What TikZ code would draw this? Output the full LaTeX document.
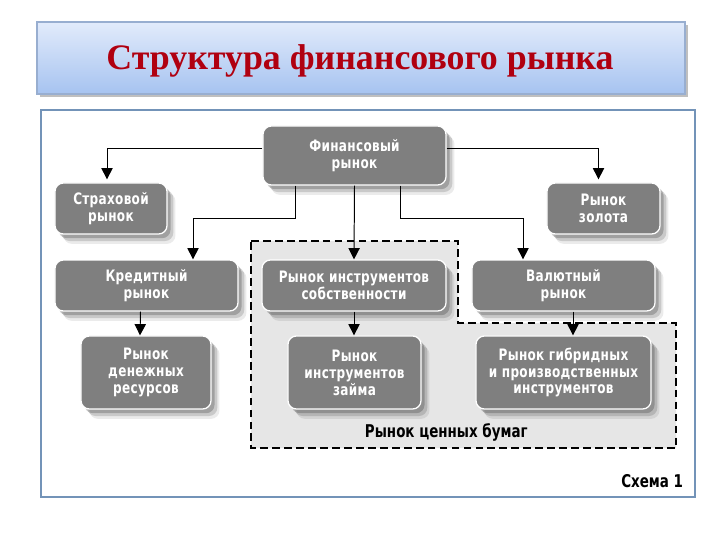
\documentclass[tikz,border=0pt]{standalone}
\usepackage{fontspec}
\setmainfont{Liberation Serif}
\newfontfamily\boxfont{DejaVu Sans Condensed}[FakeStretch=0.85, LetterSpace=2]
\newfontfamily\lblfont{DejaVu Sans Condensed}[FakeStretch=0.85]
\usetikzlibrary{shadows,calc,arrows.meta}
\definecolor{boxgray}{HTML}{7F7F7F}
\definecolor{framecol}{HTML}{7393B8}
\definecolor{titletop}{HTML}{E2EBFB}
\definecolor{titlebot}{HTML}{A6C3F0}
\definecolor{titleborder}{HTML}{98AED0}
\definecolor{titlered}{HTML}{B00010}
\definecolor{regiongray}{HTML}{E6E6E6}
\tikzset{
  mbox/.style={draw=white, line width=0.9pt, fill=boxgray, rounded corners=6pt,
    align=center, text=white, font=\boxfont\bfseries\fontsize{11.2}{12}\selectfont,
    drop shadow={shadow xshift=6pt, shadow yshift=-7pt, opacity=0.08, fill=black},
    drop shadow={shadow xshift=4.5pt, shadow yshift=-5pt, opacity=0.14, fill=black},
    drop shadow={shadow xshift=2.5pt, shadow yshift=-3pt, opacity=0.2, fill=black},
    inner sep=2pt},
  arr/.style={draw=black, line width=0.7pt, -{Triangle[width=8pt,length=8pt]}},
  lbl/.style={font=\lblfont\bfseries\fontsize{12.5}{14}\selectfont, text=black}
}
\begin{document}
\begin{tikzpicture}[x=0.025cm,y=-0.025cm]
\useasboundingbox (0,0) rectangle (720,540);
% title
\node[draw=titleborder, line width=0.8pt, top color=titletop, bottom color=titlebot,
  minimum width=648*0.025cm, minimum height=72*0.025cm,
  drop shadow={shadow xshift=2pt, shadow yshift=-2pt, opacity=0.25, fill=black}] (title) at (361,58) {};
\node[font=\bfseries\fontsize{25.5}{28}\selectfont, text=titlered] (ttext) at (360,61) {Структура финансового рынка};
% frame
\node[draw=framecol, line width=1.4pt, fill=white, minimum width=654*0.025cm, minimum height=387*0.025cm] (frame) at (368,303.5) {};
% dashed region
\draw[line width=1.8pt, dash pattern=on 5.5pt off 3pt, fill=regiongray]
  (251,241) -- (458,241) -- (458,323) -- (676,323) -- (676,448) -- (251,448) -- cycle;
% boxes
\node[mbox, minimum width=4.575cm, minimum height=1.475cm] (fin) at (354.5,155.5) {Финансовый\\рынок};
\node[mbox, minimum width=2.8cm, minimum height=1.275cm] (str) at (111,208.5) {Страховой\\рынок};
\node[mbox, minimum width=2.825cm, minimum height=1.275cm] (gold) at (603.5,208.5) {Рынок\\золота};
\node[mbox, minimum width=4.575cm, minimum height=1.275cm] (kred) at (146.5,285.5) {Кредитный\\рынок};
\node[mbox, minimum width=4.6cm, minimum height=1.275cm] (sobs) at (354,285.5) {Рынок инструментов\\собственности};
\node[mbox, minimum width=4.575cm, minimum height=1.275cm] (val) at (563.5,285.5) {Валютный\\рынок};
\node[mbox, minimum width=3.25cm, minimum height=1.825cm] (den) at (146,372.5) {Рынок\\денежных\\ресурсов};
\node[mbox, minimum width=3.325cm, minimum height=1.825cm] (zaim) at (354.5,372.5) {Рынок\\инструментов\\займа};
\node[mbox, minimum width=4.375cm, minimum height=1.825cm] (gib) at (563.5,372.5) {Рынок гибридных\\и производственных\\инструментов};
% labels
\node[lbl, anchor=west] (cb) at (360,432) {Рынок ценных бумаг};
\node[lbl, anchor=east] (sch) at (688,481) {Схема 1};
% connectors
\draw[arr] ($(fin.west)+(0,-7.5)$) -| ($(str.north)+(-4,-3)$);
\draw[arr] ($(fin.east)+(0,-7.5)$) -| ($(gold.north)+(-5,-3)$);
\draw[arr] ($(fin.south)+(-59.5,0)$) |- ($(fin.south)+(-100,33)$) -| ($(kred.north)+(46.5,0)$);
\draw[arr] (fin.south) -- (sobs.north);
\draw[arr] ($(fin.south)+(45.5,0)$) |- ($(fin.south)+(100,33)$) -| ($(val.north)+(-40.5,0)$);
\draw[arr] ($(kred.south)+(-6,0)$) -- ($(den.north)+(-6,0)$);
\draw[arr] (sobs.south) -- (sobs.south |- zaim.north);
\draw[arr] ($(val.south)+(9.5,0)$) -- ($(gib.north)+(9.5,0)$);
\end{tikzpicture}
\end{document}
